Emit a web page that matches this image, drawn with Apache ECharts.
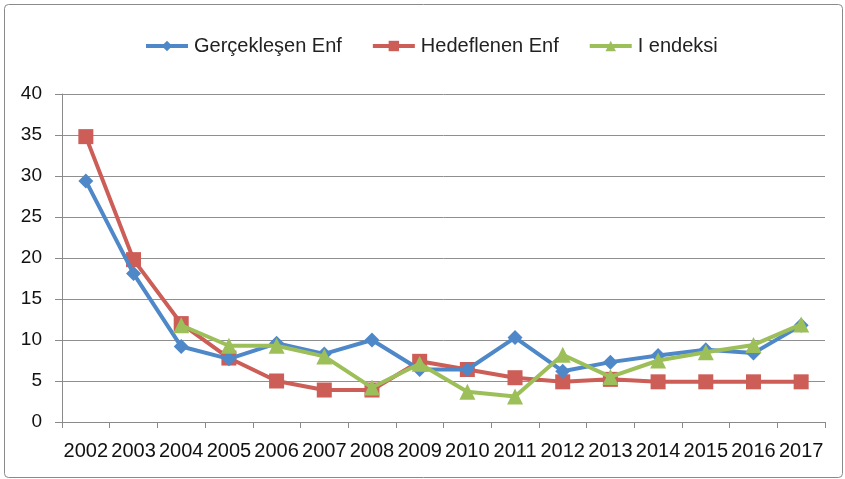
<!DOCTYPE html>
<html><head><meta charset="utf-8">
<script src="https://cdn.jsdelivr.net/npm/echarts@6/dist/echarts.min.js"></script>
<style>html,body{margin:0;padding:0;background:#fff}#c{width:845px;height:479px}</style>
</head><body><div id="c"></div>
<script>
const years = ['2002','2003','2004','2005','2006','2007','2008','2009','2010','2011','2012','2013','2014','2015','2016','2017'];
const gerceklesen = [29.4, 18.1, 9.2, 7.7, 9.6, 8.3, 10.0, 6.4, 6.4, 10.3, 6.2, 7.3, 8.1, 8.8, 8.4, 11.8];
const hedeflenen = [34.8, 19.8, 12.0, 7.8, 5.0, 3.9, 3.9, 7.4, 6.4, 5.4, 4.9, 5.2, 4.9, 4.9, 4.9, 4.9];
const iEndeksi = [null, null, 11.8, 9.3, 9.3, 8.0, 4.2, 7.1, 3.7, 3.1, 8.2, 5.5, 7.5, 8.5, 9.4, 11.9];
const yTicks = [0, 5, 10, 15, 20, 25, 30, 35, 40];

const FONT = '"Liberation Sans", Arial, sans-serif';
const chart = echarts.init(document.getElementById('c'));
chart.setOption({
  animation: false,
  backgroundColor: '#fff',
  graphic: [{
    type: 'rect', left: 2, top: 2,
    shape: { width: 838, height: 473, r: 4 },
    style: { fill: 'none', stroke: '#8a8a8a', lineWidth: 1 }, z: -1
  }],
  legend: {
    top: 31, left: 139, itemGap: 29, itemWidth: 42, itemHeight: 13,
    lineStyle: { width: 4 },
    textStyle: { fontFamily: FONT, fontSize: 20, color: '#222', padding: [0, 0, 0, 1] },
    data: ['Gerçekleşen Enf', 'Hedeflenen Enf', 'I endeksi']
  },
  grid: { left: 62, right: 20, top: 94, bottom: 57 },
  xAxis: {
    type: 'category', data: years, boundaryGap: true,
    axisLine: { lineStyle: { color: '#8a8a8a', width: 1 } },
    axisTick: { show: true, length: 6, lineStyle: { color: '#8a8a8a' } },
    axisLabel: { fontFamily: FONT, fontSize: 20, color: '#111', margin: 19, interval: 0 }
  },
  yAxis: {
    type: 'value', min: yTicks[0], max: yTicks[yTicks.length - 1], interval: 5,
    axisLine: { show: true, lineStyle: { color: '#8a8a8a', width: 1 } },
    axisTick: { show: true, length: 7, lineStyle: { color: '#8a8a8a' } },
    axisLabel: { fontFamily: FONT, fontSize: 19, color: '#111', margin: 20 },
    splitLine: { lineStyle: { color: '#8f8f8f', width: 1 } }
  },
  series: [
    { name: 'Gerçekleşen Enf', type: 'line', data: gerceklesen, symbol: 'diamond', symbolSize: 15,
      lineStyle: { color: '#4F88C8', width: 4 }, itemStyle: { color: '#4F88C8' }, z: 3 },
    { name: 'Hedeflenen Enf', type: 'line', data: hedeflenen, symbol: 'rect', symbolSize: 15,
      lineStyle: { color: '#CC5D57', width: 4 }, itemStyle: { color: '#CC5D57' }, z: 2 },
    { name: 'I endeksi', type: 'line', data: iEndeksi, symbol: 'triangle', symbolSize: 16,
      lineStyle: { color: '#9DBF5A', width: 4 }, itemStyle: { color: '#9DBF5A' }, z: 4 }
  ]
});
</script></body></html>
